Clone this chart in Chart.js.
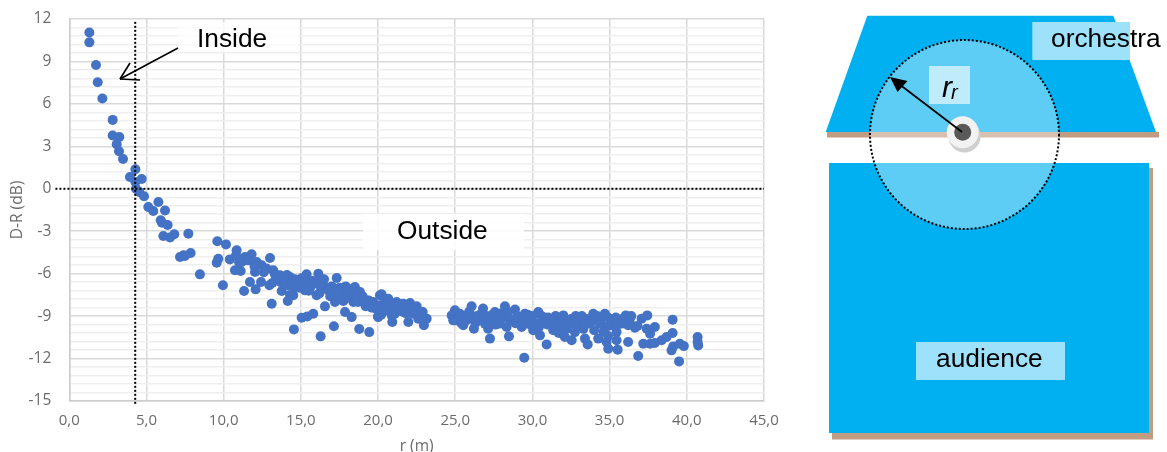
<!DOCTYPE html>
<html>
<head>
<meta charset="utf-8">
<title>D-R vs r</title>
<script src="https://cdn.jsdelivr.net/npm/chart.js@4/dist/chart.umd.min.js"></script>
<style>
    html, body { margin: 0; padding: 0; background: #ffffff; overflow: hidden; }
    #wrap { position: relative; width: 1167px; height: 452px; }
    #chart { filter: blur(0.4px); }
</style>
</head>
<body>
<div id="wrap"><canvas id="chart" width="1167" height="452"></canvas></div>
<script>
// Distance to the receiver (m)
const rValues = [
    1.3, 1.3, 1.73, 1.84, 2.14, 2.81, 2.81, 3.24, 3.07, 3.22, 3.48, 3.93, 4.28, 4.69, 4.28, 4.32, 4.53, 4.84,
    5.12, 5.77, 5.44, 6.2, 5.92, 6.0, 6.37, 6.09, 6.52, 6.8, 7.71, 7.17, 7.49, 7.86, 7.4, 8.46, 9.59, 10.15,
    9.65, 9.55, 9.95, 10.4, 10.84, 10.8, 11.17, 10.73, 11.1, 11.38, 11.81, 11.58, 12.14, 12.03, 11.7, 11.32,
    12.07, 12.42, 12.46, 13.0, 12.78, 13.21, 12.96, 13.15, 13.11, 13.65, 13.97, 13.76, 14.29, 14.18, 14.51,
    14.15, 14.55, 15.05, 15.42, 15.8, 16.56, 17.14, 16.28, 17.86, 18.29, 18.78, 19.43, 20.0, 15.05, 15.37,
    16.13, 17.32, 15.27, 16.02, 15.6, 16.46, 16.24, 16.78, 17.32, 17.21, 17.75, 18.18, 18.5, 18.83, 17.75,
    18.4, 19.26, 19.8, 20.12, 20.45, 20.23, 19.69, 20.66, 21.2, 21.63, 22.07, 22.5, 22.89, 23.15, 22.97,
    21.96, 20.92, 20.01, 20.55, 21.09, 21.63, 22.28, 22.6, 20.77, 20.12, 21.42, 22.07,
    13.4, 13.8, 14.1, 14.6, 14.3, 14.6, 14.9, 15.3, 15.7, 16.0, 16.5, 17.0, 17.5, 17.9, 18.2, 18.7, 19.0,
    19.4, 19.7, 14.9, 15.5, 16.2, 16.9, 17.5, 18.0, 18.7, 19.2, 20.4, 21.0, 21.9, 22.3, 20.2, 20.9,
    24.77, 24.98, 24.87, 25.3, 25.19, 25.52, 26.06, 26.21, 25.84, 26.8, 26.49, 26.92, 27.25, 27.57, 27.13,
    28.22, 28.11, 27.89, 28.48, 28.33, 28.87, 28.76, 29.3, 29.51, 30.38, 29.84, 30.05, 30.49, 30.92, 29.47,
    30.7, 25.5, 25.7, 26.0, 26.3, 26.6, 27.0, 27.3, 27.6, 28.0, 28.5, 29.0, 29.3, 29.7, 30.0, 30.2, 30.6, 31.0,
    31.13, 31.35, 32.0, 31.78, 32.1, 32.54, 32.43, 32.97, 32.75, 33.4, 33.58, 33.29, 33.94, 33.72, 34.26,
    34.69, 34.37, 34.91, 34.8, 35.45, 35.23, 35.52, 35.45, 36.05, 35.77, 36.2, 36.64, 36.2, 36.85, 37.07,
    37.44, 37.4, 37.93, 37.62, 37.18, 37.62, 37.93, 38.37, 38.69, 39.08, 39.08, 39.01, 39.12, 39.5, 39.55,
    39.81, 40.7, 40.7, 40.74,
    31.5, 32.5, 32.8, 33.2, 33.6, 34.2, 34.4, 34.9, 35.0, 35.4, 35.8, 36.3, 36.8, 31.0, 31.4, 31.7, 32.2,
    32.9, 33.3, 34.0, 34.6, 34.9,
    25.0, 25.4, 25.9, 26.4, 26.9, 27.4, 27.9, 28.4, 28.9, 29.4, 29.9, 30.4, 30.9, 31.4, 31.9, 32.4, 32.9,
    33.4, 33.9, 34.4, 34.9, 35.4, 35.9, 36.4,
    14.4, 15.0, 15.6, 16.3, 16.9, 17.4, 18.0, 18.6, 19.1, 19.6, 20.3, 20.8, 21.3, 21.8, 22.4, 22.8, 12.0,
    12.6, 13.3, 13.7, 11.0
];

// Direct minus reverberant level (dB), same order as rValues
const drValues = [
    11.05, 10.35, 8.75, 7.53, 6.38, 4.87, 3.76, 3.66, 3.15, 2.65, 2.11, 0.83, 1.38, 0.69, 0.48, 0.0, -0.22, -0.53,
    -1.29, -0.93, -1.57, -1.54, -2.23, -2.4, -2.56, -3.34, -3.45, -3.22, -3.17, -4.82, -4.75, -4.54, -4.7, -6.05, -3.71, -3.93,
    -4.94, -5.22, -6.82, -4.99, -4.35, -4.7, -5.18, -5.76, -5.81, -4.82, -4.63, -5.06, -5.18, -5.88, -6.59, -7.23,
    -7.11, -6.59, -5.41, -4.89, -5.64, -5.76, -6.82, -6.66, -8.12, -6.12, -6.35, -7.23, -6.24, -6.82, -7.53,
    -7.93, -9.94, -9.11, -9.02, -8.83, -8.31, -9.72, -10.43, -8.71, -9.07, -9.91, -10.13, -9.02, -6.33, -6.05,
    -6.0, -6.31, -7.18, -7.53, -6.82, -6.82, -6.33, -7.18, -7.41, -8.0, -7.18, -7.53, -6.95, -7.3, -7.93,
    -8.0, -7.89, -8.45, -7.53, -7.77, -7.46, -8.0, -7.77, -8.0, -8.12, -8.08, -8.31, -8.71, -9.18, -9.65,
    -9.42, -9.42, -9.07, -8.59, -8.83, -8.71, -8.83, -9.18, -8.12, -8.24, -8.47, -8.59,
    -6.3, -6.5, -6.1, -7.0, -7.5, -6.4, -6.7, -6.6, -6.5, -6.7, -6.4, -6.9, -7.0, -6.9, -7.1, -7.5, -7.6,
    -7.9, -8.1, -7.0, -7.2, -7.4, -7.6, -7.7, -7.7, -8.0, -8.3, -8.3, -8.4, -8.3, -8.4, -8.9, -9.0,
    -8.95, -8.59, -9.3, -8.83, -9.18, -9.65, -8.31, -9.89, -9.18, -8.47, -9.07, -9.53, -10.59, -8.71, -9.89,
    -8.31, -9.07, -9.53, -10.43, -9.77, -8.54, -9.3, -9.77, -8.83, -8.71, -9.3, -10.0, -10.36, -11.0, -11.94,
    -9.53, -9.0, -9.3, -9.0, -9.5, -8.9, -9.0, -9.3, -9.6, -8.8, -9.2, -9.0, -9.3, -8.9, -9.0, -9.5, -9.0, -9.1,
    -9.18, -10.0, -8.95, -9.65, -10.48, -10.71, -9.53, -9.42, -10.13, -10.59, -11.0, -9.18, -8.83, -9.53, -10.59,
    -8.83, -9.53, -11.3, -10.83, -10.13, -9.42, -11.37, -10.71, -8.95, -9.53, -10.83, -9.82, -9.65, -11.82, -9.18,
    -8.95, -9.89, -9.77, -10.24, -10.95, -10.95, -10.9, -10.71, -10.48, -10.2, -9.25, -11.42, -11.14, -12.2, -10.95,
    -11.12, -10.48, -10.83, -11.07,
    -9.0, -9.2, -9.0, -9.0, -9.2, -9.0, -9.2, -9.1, -9.6, -9.1, -9.2, -9.4, -9.7, -9.6, -9.7, -10.2, -9.9,
    -9.7, -9.9, -10.0, -10.1, -10.4,
    -9.3, -9.5, -8.7, -9.0, -9.2, -8.9, -9.2, -8.7, -9.5, -9.6, -9.6, -9.8, -9.4, -9.3, -9.4, -9.5, -9.2,
    -9.4, -9.3, -9.5, -9.7, -9.8, -9.5, -9.0,
    -6.7, -6.4, -7.0, -7.0, -7.2, -7.3, -7.4, -7.8, -7.9, -8.4, -8.7, -8.6, -8.6, -8.8, -8.6, -8.9, -5.5,
    -5.9, -6.0, -6.6, -5.2
];

// Dotted reference lines
const boundaryR = [4.27, 4.27];
const boundaryDR = [11.8, -15.2];
const zeroR = [-0.9, 45];
const zeroDR = [0, 0];

const yMajorTicks = [12, 9, 6, 3, 0, -3, -6, -9, -12, -15];
const xTickStep = 5;

const GRID_MAJOR = '#d9d9d9';
const GRID_MINOR = '#efefef';
const LABEL_COLOR = '#6b6b6b';
const SANS = '"Liberation Sans", Arial, sans-serif';

// Les textes et le schema de droite sont dessines apres le graphique
function drawArrowLine(ctx, x1, y1, x2, y2) {
    ctx.beginPath();
    ctx.moveTo(x1, y1);
    ctx.lineTo(x2, y2);
    ctx.stroke();
}

function drawLabel(ctx, text, x, y) {
    ctx.fillStyle = '#000000';
    ctx.font = '26.3px ' + SANS;
    ctx.textAlign = 'left';
    ctx.textBaseline = 'alphabetic';
    ctx.fillText(text, x, y);
}

const annotationsPlugin = {
    id: 'annotations',
    afterDraw(chart) {
        const ctx = chart.ctx;
        ctx.save();

        // Fonds blancs derriere Inside / Outside
        ctx.fillStyle = 'rgba(255,255,255,0.75)';
        ctx.fillRect(178, 22, 120, 30);
        ctx.fillStyle = 'rgba(255,255,255,0.85)';
        ctx.fillRect(363, 214, 161, 36);
        drawLabel(ctx, 'Inside', 197, 47);
        drawLabel(ctx, 'Outside', 397, 239);

        // Fleche ouverte vers la zone Inside
        ctx.strokeStyle = '#000000';
        ctx.lineWidth = 1.6;
        drawArrowLine(ctx, 178, 48, 120, 79);
        drawArrowLine(ctx, 120, 79, 130, 63);
        drawArrowLine(ctx, 120, 79, 140, 80);

        // Ombres
        ctx.fillStyle = '#c09c82';
        ctx.fillRect(827, 132, 332, 5.5);
        ctx.fillRect(832, 168, 321, 271.5);

        // Orchestre
        ctx.fillStyle = '#00b0f0';
        ctx.beginPath();
        ctx.moveTo(867.3, 15.7);
        ctx.lineTo(1113.3, 15.7);
        ctx.lineTo(1156, 132);
        ctx.lineTo(825.7, 132);
        ctx.closePath();
        ctx.fill();

        // Public
        ctx.fillRect(829, 163, 320, 270);

        // Rayon critique
        ctx.beginPath();
        ctx.arc(964.5, 134.5, 94.5, 0, Math.PI * 2);
        ctx.fillStyle = 'rgba(255,255,255,0.37)';
        ctx.fill();
        ctx.setLineDash([2, 2]);
        ctx.lineWidth = 2;
        ctx.strokeStyle = '#000000';
        ctx.stroke();
        ctx.setLineDash([]);

        // Source
        ctx.fillStyle = '#cfcfcf';
        ctx.beginPath();
        ctx.arc(964.5, 136.5, 16, 0, Math.PI * 2);
        ctx.fill();
        ctx.fillStyle = '#f2f2f2';
        ctx.beginPath();
        ctx.arc(962.7, 132.3, 16, 0, Math.PI * 2);
        ctx.fill();
        ctx.fillStyle = '#595959';
        ctx.beginPath();
        ctx.arc(962.7, 132.3, 8.5, 0, Math.PI * 2);
        ctx.fill();

        // Fleche du rayon
        ctx.strokeStyle = '#000000';
        ctx.lineWidth = 1.8;
        drawArrowLine(ctx, 962, 132, 899, 84);
        ctx.fillStyle = '#000000';
        ctx.beginPath();
        ctx.moveTo(890, 77);
        ctx.lineTo(907.5, 81);
        ctx.lineTo(897.5, 92);
        ctx.closePath();
        ctx.fill();

        // Etiquettes
        ctx.fillStyle = '#9ee1fb';
        ctx.fillRect(1032.3, 22, 97.7, 38);
        ctx.fillRect(916, 342, 149, 38);
        ctx.fillStyle = '#c0ebfd';
        ctx.fillRect(929, 66, 41, 38);
        drawLabel(ctx, 'orchestra', 1051, 47);
        drawLabel(ctx, 'audience', 936, 367);
        ctx.fillStyle = '#000000';
        ctx.font = 'italic 30px ' + SANS;
        ctx.fillText('r', 942, 97);
        ctx.font = 'italic 20px ' + SANS;
        ctx.fillText('r', 951, 99);

        ctx.restore();
    }
};

new Chart(document.getElementById('chart'), {
    type: 'scatter',
    data: {
        datasets: [
            {
                label: 'boundary',
                type: 'line',
                data: boundaryR.map((r, i) => ({ x: r, y: boundaryDR[i] })),
                borderColor: '#000000',
                borderWidth: 2,
                borderDash: [2, 2],
                pointRadius: 0,
                clip: false,
                order: 0
            },
            {
                label: 'zero',
                type: 'line',
                data: zeroR.map((r, i) => ({ x: r, y: zeroDR[i] })),
                borderColor: '#000000',
                borderWidth: 2,
                borderDash: [2, 2],
                pointRadius: 0,
                clip: false,
                order: 0
            },
            {
                label: 'D-R',
                data: rValues.map((r, i) => ({ x: r, y: drValues[i] })),
                backgroundColor: '#4472c4',
                borderColor: '#4472c4',
                pointRadius: 5,
                pointBorderWidth: 0,
                order: 1
            }
        ]
    },
    options: {
        responsive: false,
        animation: false,
        layout: { autoPadding: false, padding: { left: 0, right: 403, top: 19, bottom: 0 } },
        plugins: { legend: { display: false }, tooltip: { enabled: false } },
        scales: {
            x: {
                type: 'linear',
                min: 0,
                max: 45,
                afterFit: scale => { scale.height = 51; },
                ticks: {
                    stepSize: xTickStep,
                    color: LABEL_COLOR,
                    font: { family: '"Open Sans"', size: 15 },
                    padding: 11,
                    maxRotation: 0,
                    callback: v => v.toFixed(1).replace('.', ',')
                },
                grid: { color: GRID_MAJOR, lineWidth: 1.5, drawTicks: false },
                border: { color: '#cccccc', width: 1.5 },
                title: {
                    display: true,
                    text: 'r (m)',
                    color: LABEL_COLOR,
                    font: { family: '"Open Sans"', size: 15.5 },
                    padding: { top: 0, bottom: -4 }
                }
            },
            y: {
                min: -15,
                max: 12,
                afterFit: scale => {
                    scale.width = 69.3;
                    scale.paddingTop = 0;
                    scale.paddingBottom = 0;
                },
                ticks: {
                    stepSize: 0.6,
                    autoSkip: false,
                    color: LABEL_COLOR,
                    font: { family: '"Open Sans"', size: 15.5 },
                    padding: 18,
                    callback: v => (yMajorTicks.includes(Math.round(v * 10) / 10) ? String(Math.round(v)) : '')
                },
                grid: {
                    color: c => (yMajorTicks.includes(Math.round(c.tick.value * 10) / 10) ? GRID_MAJOR : GRID_MINOR),
                    lineWidth: 1.5,
                    drawTicks: false
                },
                border: { color: '#cccccc', width: 1.5 },
                title: {
                    display: true,
                    text: 'D-R (dB)',
                    color: LABEL_COLOR,
                    font: { family: '"Open Sans"', size: 15.5 },
                    padding: { top: 8, bottom: 0 }
                }
            }
        }
    },
    plugins: [annotationsPlugin]
});
</script>
</body>
</html>
